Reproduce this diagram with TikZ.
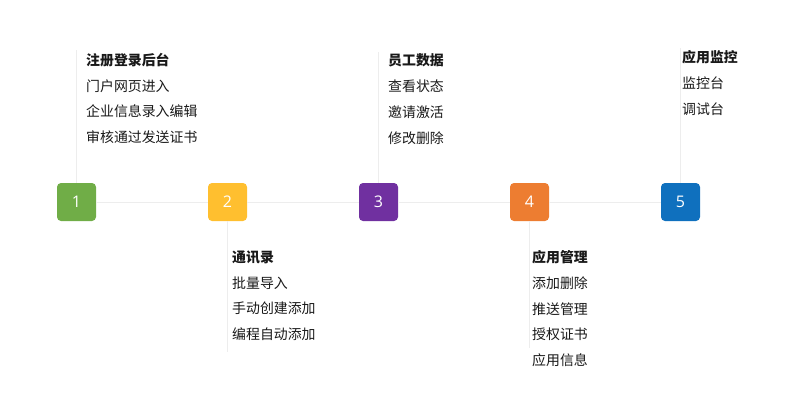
\documentclass[tikz,border=0pt]{standalone}
\usepackage{fontspec}
\setmainfont{Noto Sans CJK SC}
\newfontfamily\numfont{Open Sans}
\usepackage{tikz}
\usetikzlibrary{positioning}
\usepackage{xcolor}
\definecolor{stepone}{HTML}{70AD47}
\definecolor{steptwo}{HTML}{FFBF2F}
\definecolor{stepthree}{HTML}{7030A0}
\definecolor{stepfour}{HTML}{ED7D31}
\definecolor{stepfive}{HTML}{0F70BE}
\definecolor{guide}{HTML}{EDEDED}

\begin{document}
\begin{tikzpicture}[
  x=1pt, y=-1pt,
  stepbox/.style={rounded corners=4pt, minimum width=39pt, minimum height=38pt,
                  inner sep=0pt, text=white, font=\numfont\fontsize{16}{16}\selectfont},
  item/.style={anchor=west, inner sep=0pt, text=black!90,
               font=\fontsize{13.9}{15}\selectfont},
  head/.style={item, font=\fontsize{13.9}{15}\selectfont\bfseries},
  guideline/.style={draw=guide, line width=0.8pt},
]
  \useasboundingbox (0,0) rectangle (796,408);

  % steps
  \node[stepbox, fill=stepone]   (s1) at (76.5,202) {1};
  \node[stepbox, fill=steptwo]   (s2) at (227.5,202) {2};
  \node[stepbox, fill=stepthree] (s3) at (378.5,202) {3};
  \node[stepbox, fill=stepfour]  (s4) at (529.5,202) {4};
  \node[stepbox, fill=stepfive]  (s5) at (680.5,202) {5};

  % guide lines
  \coordinate (top1) at (76.5,50);
  \coordinate (bot2) at (227.5,352);
  \coordinate (top3) at (378.5,52);
  \coordinate (bot4) at (529.5,348);
  \coordinate (top5) at (680.5,48);
  \draw[guideline] (s1) -- (s2);
  \draw[guideline] (s2) -- (s3);
  \draw[guideline] (s3) -- (s4);
  \draw[guideline] (s4) -- (s5);
  \draw[guideline] (s1) -- (top1);
  \draw[guideline] (s2) -- (bot2);
  \draw[guideline] (s3) -- (top3);
  \draw[guideline] (s4) -- (bot4);
  \draw[guideline] (s5) -- (top5);

  % step 1
  \node[head] (h1)  at (86,60)  {注册登录后台};
  \node[item] (a11) at (86,86)  {门户网页进入};
  \node[item] (a12) at (86,111) {企业信息录入编辑};
  \node[item] (a13) at (86,137) {审核通过发送证书};

  % step 2
  \node[head] (h2)  at (232,257) {通讯录};
  \node[item] (a21) at (232,283) {批量导入};
  \node[item] (a22) at (232,308) {手动创建添加};
  \node[item] (a23) at (232,334) {编程自动添加};

  % step 3
  \node[head] (h3)  at (388,60)  {员工数据};
  \node[item] (a31) at (388,86)  {查看状态};
  \node[item] (a32) at (388,112) {邀请激活};
  \node[item] (a33) at (388,138) {修改删除};

  % step 4
  \node[head] (h4)  at (532,257) {应用管理};
  \node[item] (a41) at (532,283) {添加删除};
  \node[item] (a42) at (532,309) {推送管理};
  \node[item] (a43) at (532,334) {授权证书};
  \node[item] (a44) at (532,360) {应用信息};

  % step 5
  \node[head] (h5)  at (682,57)  {应用监控};
  \node[item] (a51) at (682,83)  {监控台};
  \node[item] (a52) at (682,109) {调试台};
\end{tikzpicture}
\end{document}
